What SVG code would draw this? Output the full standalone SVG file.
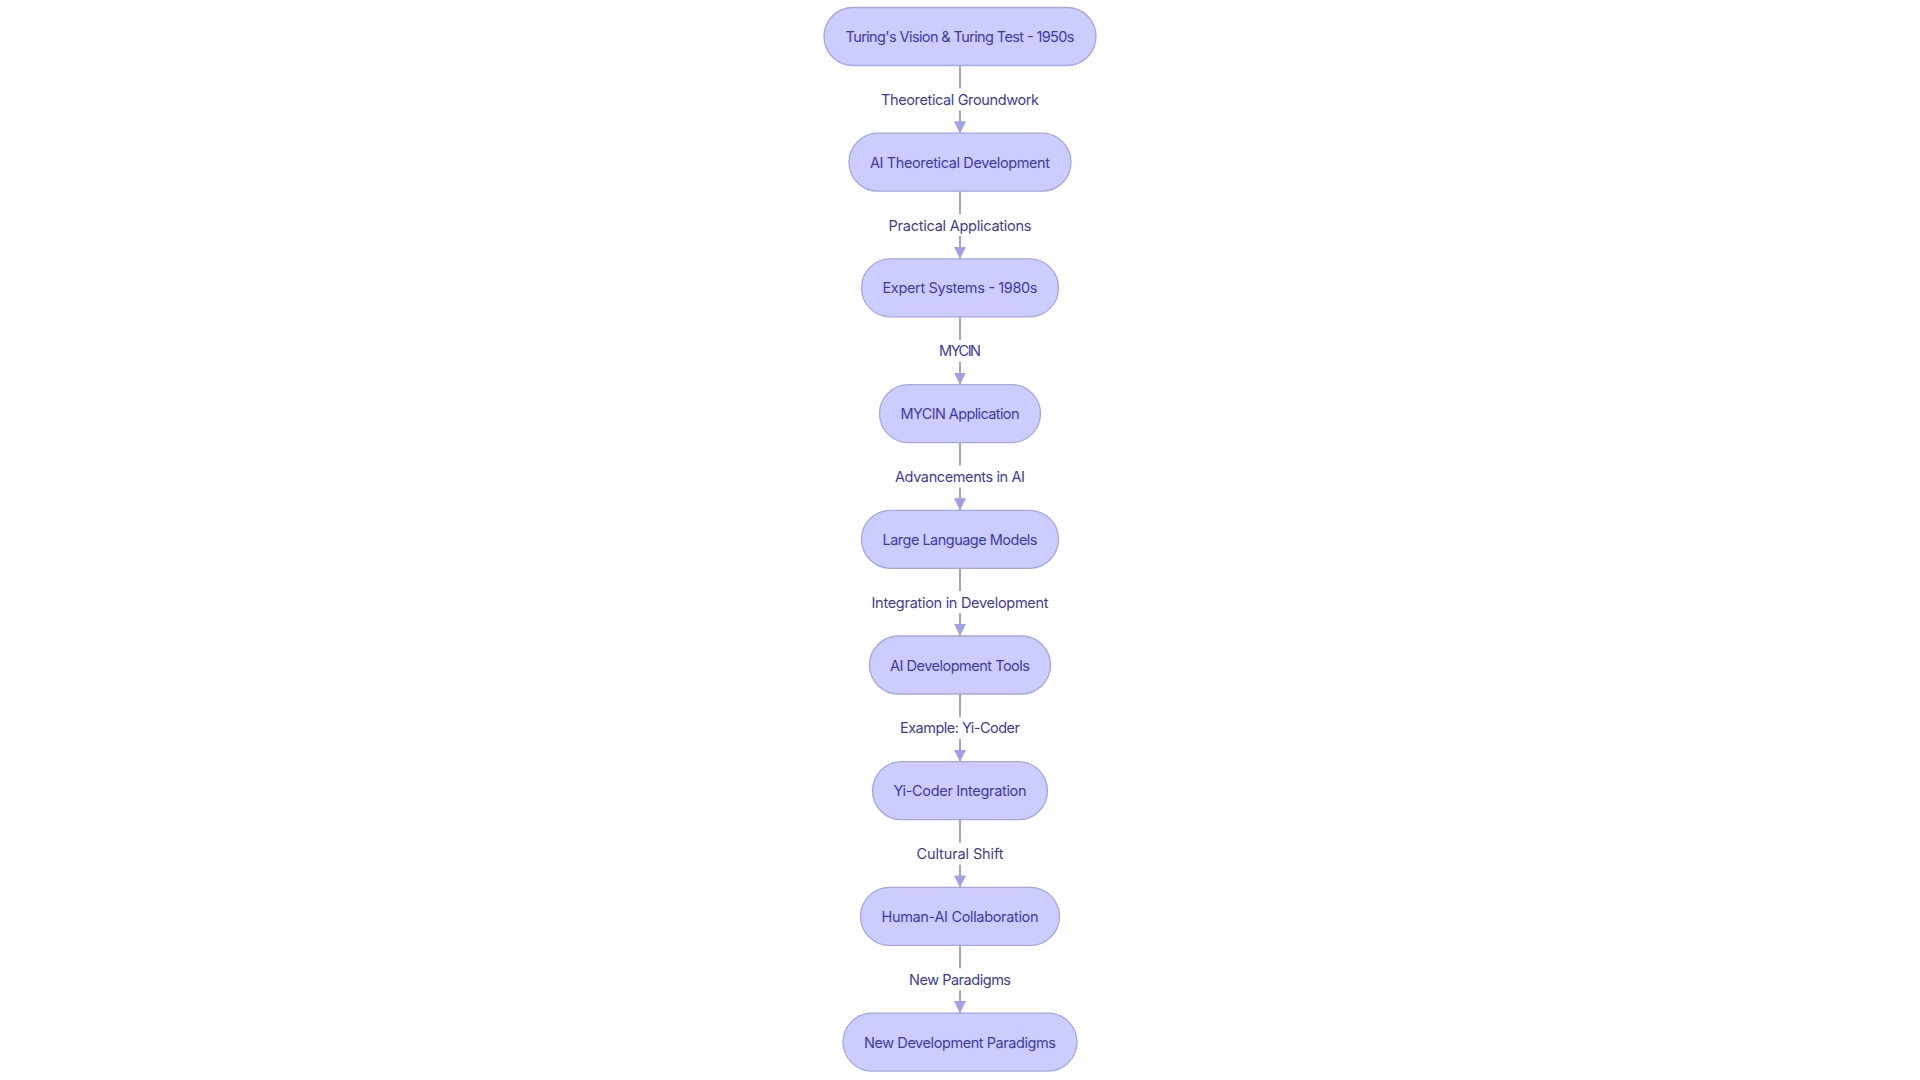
<svg xmlns="http://www.w3.org/2000/svg" width="1920" height="1080" viewBox="0 0 1920 1080">
<style>
  .node rect { fill: #CCCCFF; stroke: #A4A6EC; stroke-width: 1.3; }
  .node text { font-family: Inter, "Noto Sans", "Liberation Sans", sans-serif; font-size: 14.5px; fill: #3B3BA8; text-anchor: middle; dominant-baseline: central; }
  .edge line { stroke: #9EA1E8; stroke-width: 2; }
  .elabel rect { fill: #FFFFFF; }
  .elabel text { font-family: Inter, "Noto Sans", "Liberation Sans", sans-serif; font-size: 14.5px; fill: #3B3BA8; text-anchor: middle; dominant-baseline: central; }
</style>
<defs>
  <marker id="arrow" viewBox="0 0 12 12" refX="12" refY="6" markerWidth="12" markerHeight="12" markerUnits="userSpaceOnUse" orient="auto">
    <path d="M0,0 L12,6 L0,12 Z" fill="#9EA1E8"/>
  </marker>
</defs>
<rect width="1920" height="1080" fill="#FFFFFF"/>
<g id="connectors">
  <g class="edge"><line x1="960" y1="65.5" x2="960" y2="133.2" marker-end="url(#arrow)"/></g>
  <g class="edge"><line x1="960" y1="191.2" x2="960" y2="258.9" marker-end="url(#arrow)"/></g>
  <g class="edge"><line x1="960" y1="316.9" x2="960" y2="384.6" marker-end="url(#arrow)"/></g>
  <g class="edge"><line x1="960" y1="442.6" x2="960" y2="510.3" marker-end="url(#arrow)"/></g>
  <g class="edge"><line x1="960" y1="568.3" x2="960" y2="636" marker-end="url(#arrow)"/></g>
  <g class="edge"><line x1="960" y1="694" x2="960" y2="761.7" marker-end="url(#arrow)"/></g>
  <g class="edge"><line x1="960" y1="819.7" x2="960" y2="887.4" marker-end="url(#arrow)"/></g>
  <g class="edge"><line x1="960" y1="945.4" x2="960" y2="1013.1" marker-end="url(#arrow)"/></g>
  <g class="elabel"><rect x="879" y="88.4" width="162" height="22"/><text x="960" y="99.4" textLength="158">Theoretical Groundwork</text></g>
  <g class="elabel"><rect x="886" y="214.1" width="148" height="22"/><text x="960" y="225.1" textLength="143">Practical Applications</text></g>
  <g class="elabel"><rect x="937" y="339.8" width="46" height="22"/><text x="960" y="350.8" textLength="42">MYCIN</text></g>
  <g class="elabel"><rect x="893" y="465.5" width="134" height="22"/><text x="960" y="476.5" textLength="130">Advancements in AI</text></g>
  <g class="elabel"><rect x="870" y="591.2" width="180" height="22"/><text x="960" y="602.2" textLength="177">Integration in Development</text></g>
  <g class="elabel"><rect x="898" y="716.9" width="124" height="22"/><text x="960" y="727.9" textLength="120">Example: Yi-Coder</text></g>
  <g class="elabel"><rect x="915" y="842.6" width="90" height="22"/><text x="960" y="853.6" textLength="87">Cultural Shift</text></g>
  <g class="elabel"><rect x="907" y="968.3" width="106" height="22"/><text x="960" y="979.3" textLength="102">New Paradigms</text></g>
</g>
<g id="n1" class="node"><rect x="824" y="7.5" width="272" height="58" rx="29"/><text x="960" y="36.5" textLength="229">Turing's Vision &amp; Turing Test - 1950s</text></g>
<g id="n2" class="node"><rect x="849" y="133.2" width="222" height="58" rx="29"/><text x="960" y="162.2" textLength="180">AI Theoretical Development</text></g>
<g id="n3" class="node"><rect x="861.5" y="258.9" width="197" height="58" rx="29"/><text x="960" y="287.9" textLength="155">Expert Systems - 1980s</text></g>
<g id="n4" class="node"><rect x="879.5" y="384.6" width="161" height="58" rx="29"/><text x="960" y="413.6" textLength="119">MYCIN Application</text></g>
<g id="n5" class="node"><rect x="861.5" y="510.3" width="197" height="58" rx="29"/><text x="960" y="539.3" textLength="155">Large Language Models</text></g>
<g id="n6" class="node"><rect x="869.5" y="636" width="181" height="58" rx="29"/><text x="960" y="665" textLength="140">AI Development Tools</text></g>
<g id="n7" class="node"><rect x="872.5" y="761.7" width="175" height="58" rx="29"/><text x="960" y="790.7" textLength="133">Yi-Coder Integration</text></g>
<g id="n8" class="node"><rect x="860.5" y="887.4" width="199" height="58" rx="29"/><text x="960" y="916.4" textLength="157">Human-AI Collaboration</text></g>
<g id="n9" class="node"><rect x="843" y="1013.1" width="234" height="58" rx="29"/><text x="960" y="1042.1" textLength="192">New Development Paradigms</text></g>
</svg>
